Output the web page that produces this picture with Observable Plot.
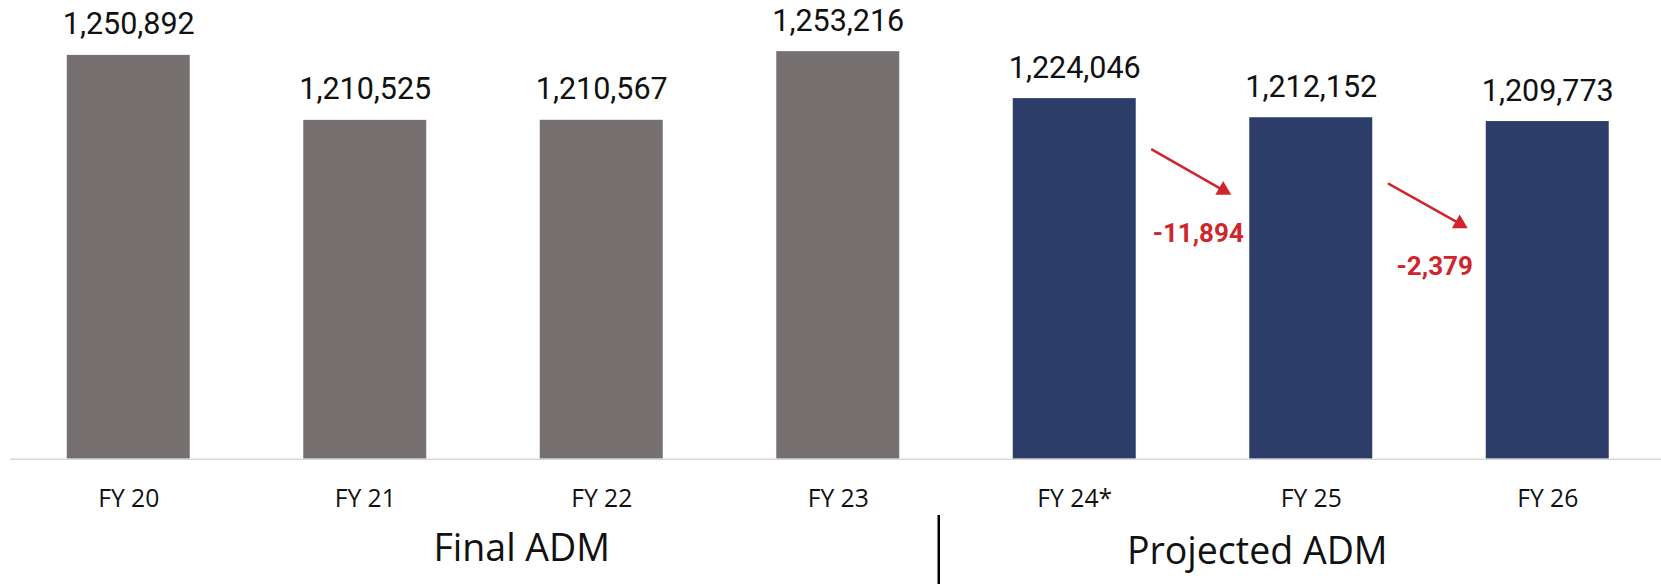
<!DOCTYPE html>
<html>
<head>
<meta charset="utf-8">
<script src="https://cdn.jsdelivr.net/npm/d3@7"></script>
<script src="https://cdn.jsdelivr.net/npm/@observablehq/plot@0.6"></script>
<style>
  html, body { margin: 0; padding: 0; background: #ffffff; }
  #chart svg { display: block; }
</style>
</head>
<body>
<div id="chart"></div>
<script>
// ---- data ----
const years = ["FY 20", "FY 21", "FY 22", "FY 23", "FY 24*", "FY 25", "FY 26"];
const adm = [1250892, 1210525, 1210567, 1253216, 1224046, 1212152, 1209773];
const status = ["Final", "Final", "Final", "Final", "Projected", "Projected", "Projected"];
const groupNames = ["Final ADM", "Projected ADM"];
const changeFrom = ["FY 24*", "FY 25"];
const changeTo = ["FY 25", "FY 26"];
const changeValues = [-11894, -2379];
// annotation arrow levels (ADM units at the band centres)
const arrowStartLevel = [1219700, 1198200];
const arrowEndLevel = [1136000, 1115600];
const axisMin = 1000000;
const axisMax = 1285000;

// ---- tables built from the arrays ----
const data = years.map((year, i) => ({year, adm: adm[i], status: status[i]}));
const changes = changeFrom.map((from, i) => ({
  from, to: changeTo[i], change: changeValues[i],
  y1: arrowStartLevel[i], y2: arrowEndLevel[i]
}));

const RED = "#cf262d";
const fmt = d3.formatLocale({decimal: ".", thousands: ",", grouping: [3], currency: ["", ""], minus: "-"}).format(",");
const headT = 1 - 88 / 236.5;

const chart = Plot.plot({
  width: 1661,
  height: 584,
  marginLeft: 10,
  marginRight: 0,
  marginTop: 0,
  marginBottom: 125.3,
  style: {fontFamily: "'Open Sans', sans-serif", fontSize: "24.7px", background: "#ffffff", color: "#111"},
  x: {
    type: "band",
    domain: years,
    range: [10, 1665.5],
    paddingInner: 0.48,
    paddingOuter: 0.24,
    align: 0.5,
    round: false,
    tickSize: 0,
    tickPadding: 29.8,
    label: null
  },
  y: {domain: [axisMin, axisMax], axis: null},
  color: {domain: ["Final", "Projected"], range: ["#767170", "#2c3d6a"]},
  marks: [
    Plot.barY(data, {x: "year", y1: () => axisMin, y2: "adm", fill: "status"}),
    Plot.ruleY([axisMin], {stroke: "#d9d9d9", strokeWidth: 1.6}),
    Plot.text(data, {
      x: "year", y: "adm", text: d => fmt(d.adm),
      lineAnchor: "bottom", dy: -21, fontSize: 30.5, fontFamily: "Roboto, sans-serif", fill: "#111"
    }),
    Plot.arrow(changes, {
      x1: "from", x2: "to", y1: "y1", y2: "y2",
      insetStart: 89, insetEnd: 101, headLength: 0,
      stroke: RED, strokeWidth: 2.5
    }),
    Plot.dot(changes, {
      x: "to", y: d => d.y1 + headT * (d.y2 - d.y1), dx: -88,
      symbol: "triangle", r: 5.9, fill: RED, stroke: "none", rotate: 119.5
    }),
    Plot.text(changes, {
      x: "to", y: "y2", text: d => fmt(d.change), dx: -113, dy: 2,
      lineAnchor: "bottom", fontSize: 26, fontWeight: "bold", fontFamily: "Roboto, sans-serif", fill: RED
    }),
    Plot.text([{name: groupNames[0], at: "FY 22"}], {
      x: "at", text: "name", frameAnchor: "bottom", lineAnchor: "bottom",
      dx: -80, dy: 101.3, fontSize: 37.5, fill: "#111"
    }),
    Plot.text([{name: groupNames[1], at: "FY 25"}], {
      x: "at", text: "name", frameAnchor: "bottom", lineAnchor: "bottom",
      dx: -54, dy: 104.5, fontSize: 37.5, fill: "#111"
    }),
    Plot.ruleX(["FY 24*"], {
      dx: -136, stroke: "#000", strokeWidth: 2.5, insetTop: 515, insetBottom: -125.3
    })
  ]
});
document.getElementById("chart").appendChild(chart);
</script>
</body>
</html>
